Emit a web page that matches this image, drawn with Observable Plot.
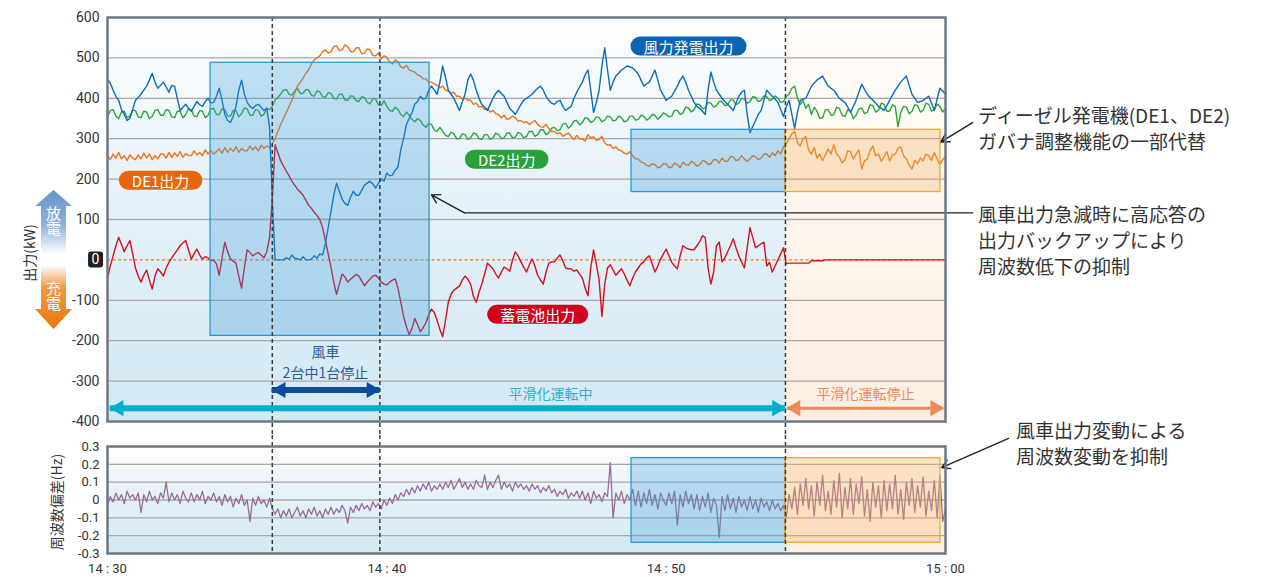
<!DOCTYPE html>
<html><head><meta charset="utf-8">
<script src="https://cdn.jsdelivr.net/npm/d3@7"></script>
<script src="https://cdn.jsdelivr.net/npm/@observablehq/plot@0.6"></script>
<style>
body{margin:0;background:#fff;}
#wrap{position:relative;width:1263px;height:577px;overflow:hidden;font-family:"Noto Sans CJK JP","Noto Sans",sans-serif;}
#wrap > svg{display:block}
.note{position:absolute;font-size:19px;color:#333;line-height:26px;white-space:nowrap;}
#deco{position:absolute;left:0;top:0;}
</style></head><body><div id="wrap"></div>
<script>
// ---------- data (time in minutes after 14:30) ----------
const step = 0.1;        // sampling of every series (min)

const windKW = [
446,438,420,405,395,372,360,345,350,372, 395,402,410,420,430,445,462,440,425,432,
440,428,415,432,430,400,370,378,385,375, 368,380,392,384,380,392,400,388,390,405,
425,395,360,345,340,355,380,420,445,410, 390,380,375,382,385,378,370,376,330,150,
0,0,0,0,5,2,12,4,3,0, 8,0,0,2,10,4,15,12,40,80,
120,160,190,170,150,140,135,155,170,160, 160,172,185,190,195,188,178,190,200,195,
215,208,210,222,230,273,300,335,350,365, 385,392,405,398,400,420,430,420,410,440,
480,452,420,410,400,385,370,390,410,445, 460,445,420,400,385,378,370,385,400,412,
420,412,405,390,375,368,360,372,385,395, 400,405,410,418,425,430,420,405,395,388,
385,392,395,380,370,375,380,400,415,428, 440,458,470,420,365,390,420,480,525,470,
420,440,455,462,470,475,480,478,475,468, 460,445,430,436,440,455,470,445,420,408,
395,400,405,418,430,445,455,440,420,405, 390,380,375,368,360,420,465,440,420,410,
400,392,385,378,370,388,405,415,420,360, 315,330,345,360,370,395,420,412,405,398,
390,372,355,380,395,360,325,365,395,398, 400,415,430,438,445,450,455,442,430,425,
420,410,400,395,390,378,365,380,395,415, 435,422,410,402,395,388,380,375,370,382,
395,408,420,430,440,448,455,432,410,400, 390,392,395,400,405,388,370,398,425,418,
410];

const de1KW = [
258,248,262,252,266,250,258,246,260,252, 248,260,250,264,252,262,248,258,250,262,
262,252,266,254,265,256,268,254,263,258, 258,270,260,266,258,272,262,270,262,268,
275,264,278,266,276,268,280,266,276,270, 270,282,272,280,270,284,276,282,278,288,
300,318,335,350,365,380,395,412,430,440, 450,462,470,485,495,500,505,515,520,512,
515,528,530,518,520,532,528,516,515,525, 525,510,512,522,520,506,505,512,498,505,
502,490,485,495,490,478,475,482,470,468, 465,458,455,448,448,440,440,436,432,426,
430,420,418,412,415,405,405,398,400,395, 395,385,388,378,380,372,375,366,370,362,
360,352,358,348,350,356,352,344,345,340, 342,335,340,345,335,330,328,336,325,318,
318,312,315,306,310,314,305,298,308,300, 300,294,310,302,305,296,298,306,290,284,
285,276,280,272,270,264,262,268,258,250, 250,242,240,234,232,238,236,228,230,238,
238,228,230,240,236,228,242,236,234,244, 240,232,235,246,244,236,238,248,248,240,
252,244,244,256,255,246,248,258,250,244, 250,258,255,248,252,262,262,254,265,258,
270,262,280,288,300,312,318,290,282,300, 305,272,262,278,252,262,246,260,275,262,
285,262,255,240,248,270,268,250,262,272, 225,245,250,270,282,258,262,244,255,268,
245,260,262,276,280,258,250,235,225,246, 238,252,245,262,258,246,266,250,236,248,
256];

const de2KW = [
355,370,372,356,350,366,368,352,356,370, 370,354,352,368,366,350,355,370,372,358,
358,372,370,354,352,368,368,352,360,374, 372,356,355,370,368,352,358,374,375,360,
360,374,372,356,356,370,370,354,362,376, 374,358,358,372,370,356,360,374,372,380,
395,402,410,420,422,410,408,418,425,412, 412,422,420,408,405,418,416,404,402,414,
412,400,398,410,410,396,395,406,405,394, 392,404,402,390,386,400,398,384,382,394,
380,370,368,378,372,360,355,366,358,348, 342,350,345,334,328,338,335,322,318,328,
318,308,305,316,312,300,300,312,310,298, 302,314,312,300,298,310,310,298,302,314,
310,300,302,314,314,302,304,316,312,302, 306,318,318,306,310,322,322,310,315,326,
328,320,322,336,338,326,332,344,345,334, 340,352,350,340,344,354,352,342,346,356,
354,344,346,356,352,342,344,356,356,346, 348,358,356,346,350,360,358,348,354,364,
360,354,356,370,370,360,364,378,376,366, 372,386,384,374,376,390,388,378,382,392,
392,382,384,396,396,384,388,400,398,388, 392,404,402,392,395,406,404,394,398,406,
400,390,392,405,410,425,430,400,385,395, 375,385,360,378,368,350,352,372,372,358,
360,378,375,358,355,372,368,350,358,374, 376,362,365,384,382,366,370,388,385,368,
368,384,380,330,365,380,378,362,368,384, 382,366,370,388,385,368,372,386,380,366,
375];

const batteryKW = [
-45,-15,10,35,56,38,20,35,48,15, -20,-40,-55,-38,-25,-50,-72,-40,-22,-30,
-40,-20,-6,5,15,25,35,42,48,25, 2,15,27,12,2,8,5,-2,0,-10,
-38,5,44,20,3,-3,-8,-40,-70,-20, 25,18,10,15,18,12,5,20,55,150,
285,265,245,232,220,208,195,185,175,168, 160,148,135,128,118,110,100,80,48,15,
-18,-55,-85,-60,-35,-42,-55,-48,-42,-36, -40,-52,-64,-55,-47,-40,-38,-45,-55,-60,
-62,-55,-50,-47,-70,-105,-140,-165,-185,-170, -145,-160,-178,-168,-155,-135,-122,-130,-150,-172,
-190,-150,-105,-85,-75,-70,-65,-50,-40,-48, -60,-90,-105,-80,-60,-35,-8,-15,-22,-35,
-45,-30,-18,-22,-28,0,20,10,-5,-18, -30,-12,2,-15,-38,-50,-60,-30,-8,-5,
-5,5,12,-2,-20,-22,-22,-28,-25,-35, -45,-70,-89,-20,25,-10,-50,-140,-60,-20,
-12,-25,-38,-30,-22,-35,-50,-64,-45,-30, -20,-10,-5,5,10,-10,-30,-15,2,15,
27,10,-6,-15,-22,10,35,30,27,25, 25,35,45,60,55,-20,-60,-30,35,44,
-5,5,20,35,52,30,10,-5,-20,30, 80,55,30,35,40,44,-15,-6,-30,-15,
0,15,30,-10,-8,-8,-8,-8,-8,-8, -8,-8,-2,-2,-2,-2,-2,0,0,0,
0,0,0,0,0,0,0,0,0,0, 0,0,0,0,0,0,0,0,0,0,
0,0,0,0,0,0,0,0,0,0, 0,0,0,0,0,0,0,0,0,0,
0];

const freqHz = [
-0.03,0.02,-0.01,0.04,0.0,0.03,-0.02,0.05,0.01,0.03,
0.0,0.04,-0.07,0.03,-0.01,0.05,0.0,0.02,-0.02,0.04,
0.01,0.1,-0.01,0.04,0.0,0.03,-0.02,0.05,0.01,-0.01,
0.04,-0.01,0.03,0.0,0.05,-0.02,0.02,0.0,0.04,-0.01,
0.02,-0.03,0.03,-0.01,0.02,-0.04,0.01,-0.02,0.03,-0.03,
0.0,-0.12,0.01,-0.03,0.02,-0.02,0.0,-0.04,0.01,-0.05,
-0.08,-0.05,-0.1,-0.06,-0.09,-0.05,-0.1,-0.07,-0.04,-0.09,
-0.06,-0.1,-0.05,-0.08,-0.04,-0.09,-0.06,-0.1,-0.05,-0.08,
-0.04,-0.08,-0.05,-0.07,-0.03,-0.06,-0.13,-0.04,-0.07,-0.03,
-0.06,-0.02,-0.05,-0.03,-0.06,-0.01,-0.04,-0.02,-0.05,0.0,
-0.03,0.01,-0.02,0.03,0.0,0.04,0.02,0.06,0.03,0.07,
0.04,0.08,0.05,0.09,0.06,0.1,0.05,0.08,0.06,0.09,
0.06,0.1,0.07,0.11,0.06,0.09,0.12,0.07,0.1,0.06,
0.09,0.06,0.11,0.08,0.07,0.14,0.06,0.1,0.07,0.11,
0.14,0.06,0.1,0.07,0.09,0.05,0.1,0.07,0.09,0.06,
0.08,0.05,0.09,0.06,0.08,0.04,0.07,0.05,0.08,0.04,
0.06,0.02,0.05,0.03,0.06,0.01,0.04,0.02,0.05,0.01,
0.05,0.0,0.04,-0.02,0.05,0.01,0.03,-0.01,0.04,0.02,
0.21,-0.1,0.04,0.0,0.05,-0.02,0.03,0.0,0.06,-0.03,
0.05,-0.04,0.04,-0.02,0.06,-0.03,0.03,-0.05,0.04,0.0,
-0.03,0.04,-0.02,0.05,-0.14,0.03,-0.04,0.05,-0.02,0.03,
-0.05,0.03,-0.06,0.02,-0.04,0.04,-0.07,0.01,-0.03,-0.21,
0.02,-0.06,0.03,-0.05,0.01,-0.07,0.02,-0.04,0.0,-0.06,
0.02,-0.05,0.0,-0.07,0.01,-0.04,-0.01,-0.06,0.0,-0.05,
-0.02,-0.06,-0.03,-0.1,0.03,-0.05,0.07,-0.08,0.09,-0.03,
0.12,-0.05,0.08,-0.09,0.1,-0.03,0.14,-0.06,0.05,-0.08,
0.11,-0.04,0.15,-0.1,0.07,-0.05,0.12,-0.08,0.09,-0.02,
0.13,-0.09,0.06,-0.12,0.1,-0.04,0.08,-0.1,0.11,-0.06,
0.09,-0.05,0.14,-0.08,0.06,-0.11,0.1,-0.03,0.12,-0.07,
0.08,-0.04,0.13,-0.09,0.05,-0.06,0.11,-0.1,0.14,-0.12,
-0.05];

const xTicks = [0, 10, 20, 30];
const xTickLabels = ["14 : 30", "14 : 40", "14 : 50", "15 : 00"];
const yTicksTop = [-400, -300, -200, -100, 0, 100, 200, 300, 400, 500, 600];
const yTicksBottom = [-0.3, -0.2, -0.1, 0, 0.1, 0.2, 0.3];
const yDomainTop = [-400, 600];
const yDomainBottom = [-0.3, 0.3];
const xDomain = [0, 30];

// events (minutes): wind turbine stop, restart, smoothing stopped
const events = [5.9, 9.75, 24.27];
const smoothEnd = 24.27;

// highlighted regions
const boxesTopBlue = [{t1: 3.69, t2: 11.53, v1: -188, v2: 488}, {t1: 18.76, t2: 24.27, v1: 168, v2: 322}];
const boxesTopOrange = [{t1: 24.27, t2: 29.82, v1: 168, v2: 322}];
const boxesBotBlue = [{t1: 18.76, t2: 24.27, v1: -0.24, v2: 0.235}];
const boxesBotOrange = [{t1: 24.27, t2: 29.82, v1: -0.24, v2: 0.235}];

// series labels
const seriesLabels = [
  {name: "風力発電出力", t: 20.8, v: 525},
  {name: "DE2出力", t: 14.29, v: 245},
  {name: "DE1出力", t: 1.9, v: 193},
  {name: "蓄電池出力", t: 15.4, v: -139}
];
const pillFills = ["#0b65b3", "#28a23a", "#e8660e", "#d0021b"];

// phase arrows and their texts
const phaseArrows = [
  {t1: 5.9, t2: 9.75, v: -322, key: "stop"},
  {t1: 0.1, t2: 24.27, v: -367, key: "on"},
  {t1: 24.33, t2: 29.93, v: -367, key: "off"}
];
const phaseTexts = [
  {label: "風車\n2台中1台停止", t: 7.8, v: -250, key: "stop"},
  {label: "平滑化運転中", t: 15.86, v: -327, key: "on"},
  {label: "平滑化運転停止", t: 27.14, v: -327, key: "off"}
];
const phaseColor = {stop: "#0d4b9b", on: "#00b0c8", off: "#f0895c"};
const phaseTextColor = {stop: "#2a5b9c", on: "#2cb1c9", off: "#f0895c"};
const phaseWidth = {stop: 6, on: 6, off: 3};

// callout leaders
const callTop1 = [{t1: 30.97, v1: 340, t2: 29.84, v2: 292}];
const callTop2Line = [{t: 30.97, v: 116.5}, {t: 12.78, v: 116.5}];
const callTop2Arrow = [{t1: 12.78, v1: 116.5, t2: 11.6, v2: 161}];
const callBot = [{t1: 32.26, v1: 0.345, t2: 29.86, v2: 0.182}];

// ---------- build ----------
const ns = "http://www.w3.org/2000/svg";
const cjk = '"Noto Sans CJK JP","Noto Sans",sans-serif';
const tickFont = 'Roboto,"Noto Sans",sans-serif';
const rows = vals => vals.map((v, i) => ({t: +(i * step).toFixed(2), v}));

const heads = phaseArrows.flatMap(a => [
  {t: a.t1, v: a.v, key: a.key, rot: -90, dx: 8.5},
  {t: a.t2, v: a.v, key: a.key, rot: 90, dx: -8.5}
]);

function bg(domainY, blueId, peachId) {
  return [
    Plot.rect([{a: xDomain[0], b: smoothEnd}], {x1: "a", x2: "b", y1: domainY[0], y2: domainY[1], fill: `url(#${blueId})`}),
    Plot.rect([{a: smoothEnd, b: xDomain[1]}], {x1: "a", x2: "b", y1: domainY[0], y2: domainY[1], fill: `url(#${peachId})`})
  ];
}
function boxes(blue, orange) {
  return [
    Plot.rect(blue, {x1: "t1", x2: "t2", y1: "v1", y2: "v2", fill: "#3aa0dc", fillOpacity: 0.3, stroke: "#2a98dc", strokeWidth: 1.3}),
    Plot.rect(orange, {x1: "t1", x2: "t2", y1: "v1", y2: "v2", fill: "#f5b060", fillOpacity: 0.32, stroke: "#f4a630", strokeWidth: 1.3})
  ];
}

const topPlot = Plot.plot({
  width: 1263, height: 435,
  marginLeft: 107, marginRight: 318, marginTop: 17, marginBottom: 14,
  style: {fontFamily: tickFont, fontSize: "14px", color: "#333", background: "transparent", overflow: "visible"},
  x: {domain: xDomain, axis: null},
  y: {domain: yDomainTop, ticks: yTicksTop, tickSize: 0, tickPadding: 8, tickFormat: d => d === 0 ? "" : String(d), label: null},
  marks: [
    ...bg(yDomainTop, "gBlueT", "gPeachT"),
    Plot.ruleY(yTicksTop.filter(v => v !== 0 && v > yDomainTop[0] && v < yDomainTop[1]), {stroke: "#a8a8a8", strokeWidth: 1.3}),
    Plot.ruleY([0], {stroke: "#f07a22", strokeDasharray: "3,2.5", strokeWidth: 1.3}),
    Plot.line(rows(de2KW), {x: "t", y: "v", stroke: "#2ea53c", strokeWidth: 1.4}),
    Plot.line(rows(de1KW), {x: "t", y: "v", stroke: "#ee7419", strokeWidth: 1.4}),
    Plot.line(rows(windKW), {x: "t", y: "v", stroke: "#0a6cbd", strokeWidth: 1.4}),
    Plot.line(rows(batteryKW), {x: "t", y: "v", stroke: "#d5101d", strokeWidth: 1.4}),
    ...boxes(boxesTopBlue, boxesTopOrange),
    Plot.ruleX(events, {stroke: "#3c3c3c", strokeDasharray: "4,3", strokeWidth: 1.5, insetBottom: -14}),
    ...phaseArrows.map(a => Plot.ruleY([a], {y: "v", x1: "t1", x2: "t2", stroke: phaseColor[a.key], strokeWidth: phaseWidth[a.key]})),
    ...heads.map(h => Plot.dot([h], {x: "t", y: "v", symbol: "triangle", r: 6, rotate: h.rot, dx: h.dx, fill: phaseColor[h.key], stroke: "none"})),
    ...phaseTexts.map(p => Plot.text([p], {x: "t", y: "v", text: "label", fill: phaseTextColor[p.key], fontSize: 14, lineHeight: 1.46, fontFamily: cjk})),
    Plot.text(seriesLabels, {x: "t", y: "v", text: "name", fill: "#ffffff", fontSize: 15, fontFamily: cjk}),
    Plot.text([0], {x: xDomain[0], y: d => d, text: d => String(d), dx: -12, fill: "#ffffff", fontSize: 14}),
    Plot.arrow(callTop1, {x1: "t1", y1: "v1", x2: "t2", y2: "v2", stroke: "#222", strokeWidth: 1.4, headLength: 10}),
    Plot.line(callTop2Line, {x: "t", y: "v", stroke: "#222", strokeWidth: 1.4}),
    Plot.arrow(callTop2Arrow, {x1: "t1", y1: "v1", x2: "t2", y2: "v2", stroke: "#222", strokeWidth: 1.4, headLength: 10}),
    Plot.frame({stroke: "#6c7885", strokeWidth: 2.5})
  ]
});

const botPlot = Plot.plot({
  width: 1263, height: 142,
  marginLeft: 107, marginRight: 318, marginTop: 11, marginBottom: 24,
  style: {fontFamily: tickFont, fontSize: "13px", color: "#333", background: "transparent", overflow: "visible"},
  x: {domain: xDomain, ticks: xTicks, tickSize: 0, tickPadding: 10.5, tickFormat: d => xTickLabels[xTicks.indexOf(d)], label: null},
  y: {domain: yDomainBottom, ticks: yTicksBottom, tickSize: 0, tickPadding: 8, tickFormat: d => d === 0 ? "0" : d.toFixed(1), label: null},
  marks: [
    ...bg(yDomainBottom, "gBlueB", "gPeachB"),
    Plot.ruleY(yTicksBottom.filter(v => v > yDomainBottom[0] && v < yDomainBottom[1]), {stroke: "#a8a8a8", strokeWidth: 1.3}),
    Plot.line(rows(freqHz), {x: "t", y: "v", stroke: "#9a6b97", strokeWidth: 1.3}),
    ...boxes(boxesBotBlue, boxesBotOrange),
    Plot.ruleX(events, {stroke: "#3c3c3c", strokeDasharray: "4,3", strokeWidth: 1.5, insetTop: -11}),
    Plot.arrow(callBot, {x1: "t1", y1: "v1", x2: "t2", y2: "v2", stroke: "#222", strokeWidth: 1.4, headLength: 10}),
    Plot.frame({stroke: "#6c7885", strokeWidth: 2.5})
  ]
});

function addDefs(svg, blueId, peachId) {
  const defs = document.createElementNS(ns, "defs");
  defs.innerHTML =
    `<linearGradient id="${blueId}" x1="0" y1="0" x2="0" y2="1"><stop offset="0" stop-color="#ffffff"/><stop offset="0.35" stop-color="#eaf4fa"/><stop offset="1" stop-color="#d2e8f3"/></linearGradient>` +
    `<linearGradient id="${peachId}" x1="0" y1="0" x2="0" y2="1"><stop offset="0" stop-color="#fffdfa"/><stop offset="1" stop-color="#fcefe2"/></linearGradient>`;
  svg.insertBefore(defs, svg.firstChild);
}
addDefs(topPlot, "gBlueT", "gPeachT");
addDefs(botPlot, "gBlueB", "gPeachB");

const wrap = document.getElementById("wrap");
wrap.appendChild(topPlot);
wrap.appendChild(botPlot);

function pillify(svg, names, fills, padX, padY, radius) {
  svg.querySelectorAll("text").forEach(t => {
    const i = names.indexOf(t.textContent);
    if (i < 0) return;
    const b = t.getBBox();
    const r = document.createElementNS(ns, "rect");
    r.setAttribute("x", b.x - padX);
    r.setAttribute("y", b.y - padY);
    r.setAttribute("width", b.width + 2 * padX);
    r.setAttribute("height", b.height + 2 * padY);
    const rr = radius == null ? (b.height / 2 + padY) : radius;
    r.setAttribute("rx", rr); r.setAttribute("ry", rr);
    r.setAttribute("fill", fills[i]);
    const tr = t.getAttribute("transform");
    if (tr) r.setAttribute("transform", tr);
    t.parentNode.insertBefore(r, t);
  });
}
pillify(topPlot, seriesLabels.map(d => d.name), pillFills, 13, -1, null);
pillify(topPlot, ["0"], ["#231f20"], 3.5, 0, 3);

// ---------- left axis decorations ----------
const deco = document.createElementNS(ns, "svg");
deco.setAttribute("id", "deco");
deco.setAttribute("width", 106); deco.setAttribute("height", 577);
deco.innerHTML = `
<defs>
<linearGradient id="gUp" x1="0" y1="0" x2="0" y2="1"><stop offset="0" stop-color="#6597c8"/><stop offset="0.55" stop-color="#8fb3d8"/><stop offset="1" stop-color="#ffffff"/></linearGradient>
<linearGradient id="gDown" x1="0" y1="0" x2="0" y2="1"><stop offset="0" stop-color="#ffffff"/><stop offset="0.35" stop-color="#ef9b4a"/><stop offset="1" stop-color="#e8770a"/></linearGradient>
</defs>
<polygon points="53.5,190 72,206 66,206 66,254 41,254 41,206 35,206" fill="url(#gUp)"/>
<polygon points="41,265 66,265 66,309 72,309 53.5,329 35,309 41,309" fill="url(#gDown)"/>
<g font-family='${cjk}' font-size="15" fill="#fff" text-anchor="middle" style="writing-mode:vertical-rl">
<text x="53.5" y="220.5">放電</text>
<text x="53.5" y="295.5">充電</text>
</g>
<g font-family='${cjk}' font-size="14" fill="#333" text-anchor="middle" dominant-baseline="central">
<text transform="translate(29,253) rotate(-90)">出力(kW)</text>
<text transform="translate(56,502) rotate(-90)">周波数偏差(Hz)</text>
</g>`;
wrap.appendChild(deco);

// ---------- right notes ----------
const notes = [
  {lines: ["ディーゼル発電機(DE1、DE2)", "ガバナ調整機能の一部代替"], left: 978, top: 102},
  {lines: ["風車出力急減時に高応答の", "出力バックアップにより", "周波数低下の抑制"], left: 978, top: 201},
  {lines: ["風車出力変動による", "周波数変動を抑制"], left: 1016, top: 417}
];
notes.forEach(n => {
  const d = document.createElement("div");
  d.className = "note";
  d.style.left = n.left + "px"; d.style.top = n.top + "px";
  d.innerHTML = n.lines.join("<br>");
  wrap.appendChild(d);
});
</script></body></html>
